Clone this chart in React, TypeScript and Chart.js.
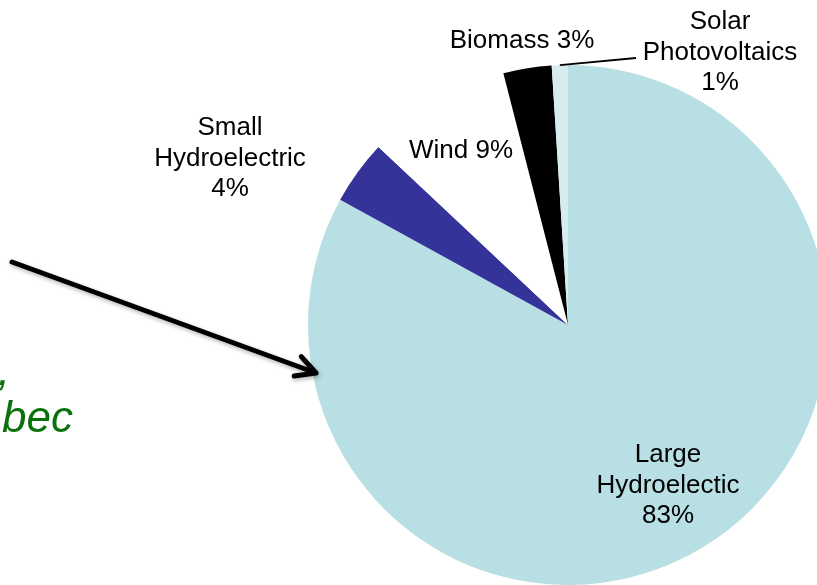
import { useEffect, useRef } from "react";
import { Chart, registerables } from "chart.js";

Chart.register(...registerables);

// ---- data ----
const categories = ["Large Hydroelectic", "Small Hydroelectric", "Wind", "Biomass", "Solar Photovoltaics"];
const shares = [83, 4, 9, 3, 1];
const sliceColors = ["#B8DFE3", "#333399", "#FFFFFF", "#000000", "#D6ECEF"];
// how each category label is broken into lines (percentage appended either on own line or inline)
const labelNameLines = [["Large", "Hydroelectic"], ["Small", "Hydroelectric"], ["Wind"], ["Biomass"], ["Solar", "Photovoltaics"]];
const percentInline = [false, false, true, true, false];
const annotationLines = [",", "bec"];

// ---- label placement (offsets from pie centre, for a radius of 260px) ----
const REF_R = 260;
const labelOffsets: [number, number][] = [
  [100, 137],
  [-338, -190],
  [-107, -167],
  [-46, -277],
  [152, -296],
];
const leaderEnds: ([number, number] | null)[] = [null, null, null, null, [68, -267]];

const FONT = "26px 'Liberation Sans', Arial, sans-serif";
const LINE_H = 30.5;

const labelPlugin = {
  id: "sliceLabels",
  afterDatasetsDraw(chart: any) {
    const ctx: CanvasRenderingContext2D = chart.ctx;
    const meta = chart.getDatasetMeta(0);
    ctx.save();
    ctx.font = FONT;
    ctx.fillStyle = "#000";
    ctx.textAlign = "center";
    ctx.textBaseline = "alphabetic";
    meta.data.forEach((arc: any, i: number) => {
      const p = arc.getProps(["x", "y", "outerRadius", "startAngle", "endAngle"], true);
      const k = p.outerRadius / REF_R;
      const pct = `${shares[i]}%`;
      const lines = percentInline[i]
        ? [...labelNameLines[i].slice(0, -1), `${labelNameLines[i][labelNameLines[i].length - 1]} ${pct}`]
        : [...labelNameLines[i], pct];
      const lx = p.x + labelOffsets[i][0] * k;
      const ly = p.y + labelOffsets[i][1] * k;
      lines.forEach((t: string, j: number) => ctx.fillText(t, lx, ly + j * LINE_H));
      const le = leaderEnds[i];
      if (le) {
        const mid = (p.startAngle + p.endAngle) / 2;
        const sx = p.x + Math.cos(mid) * p.outerRadius;
        const sy = p.y + Math.sin(mid) * p.outerRadius;
        ctx.beginPath();
        ctx.lineWidth = 2;
        ctx.strokeStyle = "#000";
        ctx.moveTo(sx, sy);
        ctx.lineTo(p.x + le[0] * k, p.y + le[1] * k);
        ctx.stroke();
      }
    });
    ctx.restore();
  },
  afterDraw(chart: any) {
    const ctx: CanvasRenderingContext2D = chart.ctx;
    ctx.save();
    // arrow pointing at the pie
    const x0 = 12, y0 = 262, x1 = 316, y1 = 373;
    ctx.strokeStyle = "#000";
    ctx.lineWidth = 5;
    ctx.lineCap = "round";
    ctx.lineJoin = "round";
    ctx.shadowColor = "rgba(0,0,0,0.3)";
    ctx.shadowBlur = 4;
    ctx.shadowOffsetX = 1;
    ctx.shadowOffsetY = 2;
    ctx.beginPath();
    ctx.moveTo(x0, y0);
    ctx.lineTo(x1, y1);
    const ang = Math.atan2(y1 - y0, x1 - x0);
    const head = 22;
    const spread = (28 * Math.PI) / 180;
    ctx.moveTo(x1 + Math.cos(ang + Math.PI - spread) * head, y1 + Math.sin(ang + Math.PI - spread) * head);
    ctx.lineTo(x1, y1);
    ctx.lineTo(x1 + Math.cos(ang + Math.PI + spread) * head, y1 + Math.sin(ang + Math.PI + spread) * head);
    ctx.stroke();
    ctx.restore();

    // green italic annotation (its start lies outside the frame)
    ctx.save();
    ctx.font = "italic 44px 'Liberation Sans', Arial, sans-serif";
    ctx.fillStyle = "#0A720A";
    ctx.textAlign = "right";
    ctx.textBaseline = "alphabetic";
    ctx.fillText(annotationLines[0], 10, 385);
    ctx.fillText(annotationLines[1], 73, 432);
    ctx.restore();
  },
};

export default function App() {
  const ref = useRef<HTMLCanvasElement | null>(null);
  useEffect(() => {
    if (!ref.current) return;
    const chart = new Chart(ref.current, {
      type: "pie",
      data: {
        labels: categories,
        datasets: [
          {
            data: shares,
            backgroundColor: sliceColors,
            borderWidth: 0,
            hoverOffset: 0,
          },
        ],
      },
      options: {
        animation: false,
        responsive: false,
        events: [],
        rotation: 0,
        layout: { padding: { left: 308, top: 65, right: 12, bottom: 15 } },
        plugins: {
          legend: { display: false },
          tooltip: { enabled: false },
        },
      },
      plugins: [labelPlugin],
    });
    return () => chart.destroy();
  }, []);
  return (
    <div
      style={{
        position: "fixed",
        left: 0,
        top: 0,
        width: 817,
        height: 585,
        overflow: "hidden",
        background: "#fff",
      }}
    >
      <canvas ref={ref} width={840} height={600} style={{ display: "block", width: 840, height: 600 }} />
    </div>
  );
}
